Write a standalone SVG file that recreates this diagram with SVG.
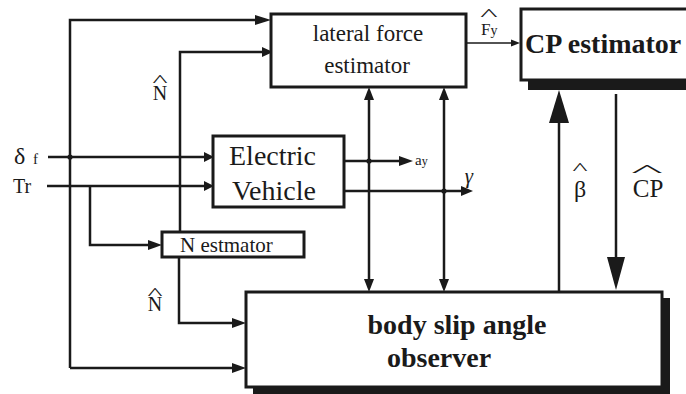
<svg xmlns="http://www.w3.org/2000/svg" width="686" height="394" viewBox="0 0 686 394">
<style>
.ln{fill:none;stroke:#1a1a1a;stroke-width:2.5}
.thin{fill:none;stroke:#1a1a1a;stroke-width:1.3}
.box{fill:#fff;stroke:#1a1a1a;stroke-width:3}
.ah{fill:#1a1a1a;stroke:none}
.sh{fill:#1a1a1a;stroke:none}
text{font-family:"Liberation Serif","Times New Roman",serif;fill:#1a1a1a}
.b{font-weight:bold}
.hat{text-anchor:middle;font-size:16px}
</style>
<rect width="686" height="394" fill="#fff"/>
<g id="connectors">
  <path class="ln" d="M70,368 V20 H258"/>
  <polygon class="ah" points="271,20 255,15 255,25"/>
  <path class="ln" d="M180,232 V52 H263"/>
  <polygon class="ah" points="273,52 262,47 262,57"/>
  <path class="ln" d="M48,157 H206"/>
  <polygon class="ah" points="214,157 204,152 204,162"/>
  <path class="ln" d="M47,186 H206"/>
  <polygon class="ah" points="214,186 204,181 204,191"/>
  <path class="ln" d="M90,186 V245 H150"/>
  <polygon class="ah" points="162,245 148,240 148,250"/>
  <path class="ln" d="M179,257 V323 H234"/>
  <polygon class="ah" points="246,323 232,318 232,328"/>
  <path class="ln" d="M70,368 H234"/>
  <polygon class="ah" points="246,368 232,363 232,373"/>
  <path class="ln" d="M344,161 H400"/>
  <polygon class="ah" points="413,161 399,156 399,166"/>
  <path class="ln" d="M344,191 H462"/>
  <polygon class="ah" points="473,191 461,186 461,196"/>
  <path class="ln" d="M369,98 V281"/>
  <polygon class="ah" points="369,87 364,100 374,100"/>
  <polygon class="ah" points="369,292 364,279 374,279"/>
  <path class="ln" d="M444,98 V281"/>
  <polygon class="ah" points="444,87 439,100 449,100"/>
  <polygon class="ah" points="444,292 439,279 449,279"/>
  <circle class="ah" cx="70" cy="157" r="2.6"/>
  <circle class="ah" cx="369" cy="161" r="2.6"/>
  <circle class="ah" cx="444" cy="191" r="2.6"/>
  <path class="thin" d="M467,43 H513"/>
  <polygon class="ah" points="520,43 511,39.5 511,46.5"/>
  <path class="ln" d="M559,292 V120"/>
  <polygon class="ah" points="559,90 549,123 569,123"/>
  <path class="ln" d="M616,94 V260"/>
  <polygon class="ah" points="616,290 607,257 625,257"/>
</g>
<g id="labels">
  <text x="14" y="164" font-size="24">δ</text>
  <text x="33" y="164" font-size="15">f</text>
  <text x="13" y="193" font-size="20">Tr</text>
  <text x="160" y="100" font-size="20" text-anchor="middle">N</text>
  <text class="hat" transform="translate(160,86) scale(2,1)">^</text>
  <text x="155" y="311" font-size="20" text-anchor="middle">N</text>
  <text class="hat" transform="translate(155,299) scale(2,1)">^</text>
  <text x="415" y="165" font-size="15">a<tspan font-size="12">y</tspan></text>
  <text x="469" y="183" font-size="21" font-style="italic" text-anchor="middle">γ</text>
  <text x="481" y="35" font-size="17">F<tspan font-size="14">y</tspan></text>
  <text class="hat" transform="translate(489,20) scale(2.3,1)">^</text>
  <text x="580" y="197" font-size="24" text-anchor="middle">β</text>
  <text class="hat" transform="translate(580,174) scale(2,1)">^</text>
  <text x="648" y="197" font-size="25" text-anchor="middle">CP</text>
  <text class="hat" transform="translate(647,176) scale(4.2,1)">^</text>
</g>
<g id="lateral-force-estimator">
  <rect class="box" x="271" y="14" width="195" height="73"/>
  <text x="368" y="41" font-size="23" text-anchor="middle">lateral force</text>
  <text x="367" y="73" font-size="23" text-anchor="middle">estimator</text>
</g>
<g id="cp-estimator">
  <rect class="sh" x="528" y="18" width="175" height="72"/>
  <rect class="box" x="521" y="9" width="180" height="71"/>
  <text x="525" y="53" font-size="28" class="b">CP estimator</text>
</g>
<g id="electric-vehicle">
  <rect class="box" x="213" y="136" width="131" height="71"/>
  <text x="229" y="165" font-size="28">Electric</text>
  <text x="232" y="200" font-size="28">Vehicle</text>
</g>
<g id="n-estimator">
  <rect class="box" x="162" y="232" width="142" height="25"/>
  <text x="180" y="252" font-size="21">N estmator</text>
</g>
<g id="body-slip-angle-observer">
  <rect class="sh" x="253" y="298" width="417" height="100"/>
  <rect class="box" x="246" y="292" width="416" height="95"/>
  <text x="457" y="334" font-size="28" class="b" text-anchor="middle">body slip angle</text>
  <text x="439" y="367" font-size="28" class="b" text-anchor="middle">observer</text>
</g>
</svg>
